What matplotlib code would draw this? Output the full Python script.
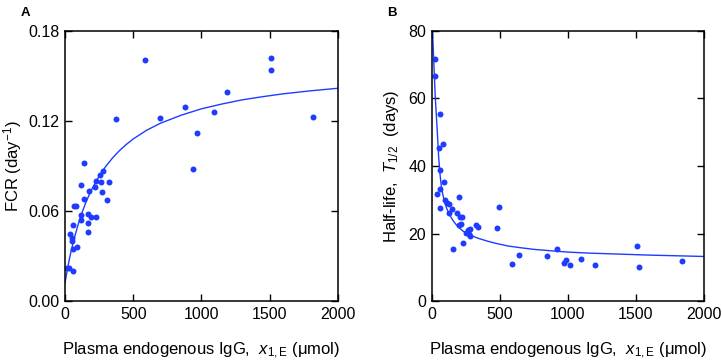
import numpy as np
import matplotlib.pyplot as plt

plt.rcParams['font.family'] = ['Liberation Sans', 'DejaVu Sans']
plt.rcParams['mathtext.fontset'] = 'custom'
plt.rcParams['mathtext.rm'] = 'Liberation Sans'
plt.rcParams['mathtext.it'] = 'Liberation Sans:italic'
plt.rcParams['mathtext.bf'] = 'Liberation Sans:bold'

blue = '#1e3cff'

# Panel A: FCR vs plasma endogenous IgG
fcr_x = [139, 276, 256, 325, 227, 261, 220, 115, 176, 271, 305, 139, 66, 83, 171,
         193, 225, 115, 115, 166, 56, 171, 34, 51, 53, 88, 56, 12, 32, 56,
         586, 376, 694, 877, 1092, 1189, 967, 938, 1509, 1509, 1817]
fcr_y = [0.0922, 0.0867, 0.0840, 0.0791, 0.0802, 0.0796, 0.0760, 0.0771, 0.0733, 0.0727,
         0.0676, 0.0682, 0.0636, 0.0636, 0.0582, 0.0562, 0.0562, 0.0573, 0.0538, 0.0522,
         0.0504, 0.0460, 0.0449, 0.0418, 0.0402, 0.0358, 0.0344, 0.0220, 0.0218, 0.0202,
         0.1607, 0.1213, 0.1218, 0.1293, 0.1262, 0.1396, 0.1120, 0.0880, 0.1622, 0.1540,
         0.1224]
fcr_fit_x = [0, 10, 20, 35, 50, 75, 100, 125, 150, 175, 200, 250, 300, 350, 400, 450,
             500, 600, 700, 850, 1000, 1150, 1300, 1450, 1600, 1800, 2000]
fcr_fit_y = [0.012, 0.0172, 0.0223, 0.0292, 0.0352, 0.0441, 0.0521, 0.0589, 0.065,
             0.0703, 0.0751, 0.0832, 0.0899, 0.0955, 0.1003, 0.1044, 0.108, 0.1139,
             0.1185, 0.1238, 0.1281, 0.1313, 0.1341, 0.1362, 0.1381, 0.1401, 0.1418]

# Panel B: half-life vs plasma endogenous IgG
hl_x = [22, 22, 61, 51, 83, 57, 88, 59, 39, 199, 57, 96, 113, 129, 149, 127, 186, 204,
        221, 201, 215, 495, 324, 341, 476, 263, 282, 255, 274, 279, 226, 157, 642, 593,
        846, 917, 973, 988, 1017, 1096, 1196, 1510, 1520, 1836]
hl_y = [71.7, 66.6, 55.3, 45.3, 46.4, 38.7, 35.2, 33.1, 31.6, 30.9, 27.6, 29.9, 28.9,
        28.7, 27.2, 26.1, 26.0, 25.0, 25.0, 22.5, 22.9, 27.9, 22.6, 21.8, 21.7, 21.0,
        21.2, 20.2, 20.0, 19.3, 17.3, 15.5, 13.5, 10.9, 13.2, 15.4, 11.2, 12.1, 10.8,
        12.4, 10.8, 16.2, 10.1, 11.9]
hl_fit_x = [5, 15, 25, 39, 51, 60, 69, 80, 93, 110, 130, 160, 190, 230, 277, 340, 412,
            480, 560, 650, 750, 870, 1000, 1150, 1300, 1450, 1600, 1800, 2000]
hl_fit_y = [80.5, 71, 61, 51.3, 42.5, 37.8, 34.5, 31.8, 29.5, 27.4, 25.6, 23.6, 22.1,
            20.7, 19.6, 18.6, 17.7, 17.0, 16.3, 15.8, 15.3, 14.9, 14.5, 14.2, 14.0,
            13.8, 13.6, 13.4, 13.2]

fig = plt.figure(figsize=(7.22, 3.64), dpi=100)
axA = fig.add_axes([0.090, 0.173, 0.378, 0.742])
axB = fig.add_axes([0.598, 0.173, 0.377, 0.742])

xlabel = r'Plasma endogenous IgG,  $x_{\mathregular{1,E}}$ (μmol)'

for ax in (axA, axB):
    ax.set_xlim(0, 2000)
    ax.set_xticks([0, 500, 1000, 1500, 2000])
    ax.tick_params(direction='in', top=True, right=True, length=5, width=1,
                   labelsize=11.5, pad=4)
    for s in ax.spines.values():
        s.set_linewidth(1.1)
    ax.set_xlabel(xlabel, fontsize=12, labelpad=14)

axA.plot(fcr_x, fcr_y, 'o', color=blue, markersize=4.3, markeredgewidth=0)
axA.plot(fcr_fit_x, fcr_fit_y, '-', color=blue, linewidth=1)
axA.set_ylim(0, 0.18)
axA.set_yticks([0, 0.06, 0.12, 0.18])
axA.set_yticklabels(['0.00', '0.06', '0.12', '0.18'])
axA.set_ylabel(r'FCR (day$^{\mathregular{-1}}$)', fontsize=12, labelpad=3)

axB.plot(hl_x, hl_y, 'o', color=blue, markersize=4.3, markeredgewidth=0)
axB.plot(hl_fit_x, hl_fit_y, '-', color=blue, linewidth=1)
axB.set_ylim(0, 80)
axB.set_yticks([0, 20, 40, 60, 80])
axB.set_ylabel(r'Half-life,  $T_{1/2}$  (days)', fontsize=12, labelpad=5)

fig.text(0.028, 0.965, 'A', fontsize=9.5, fontweight='bold', va='center')
fig.text(0.536, 0.965, 'B', fontsize=9.5, fontweight='bold', va='center')

fig.savefig('out.png', dpi=100)
